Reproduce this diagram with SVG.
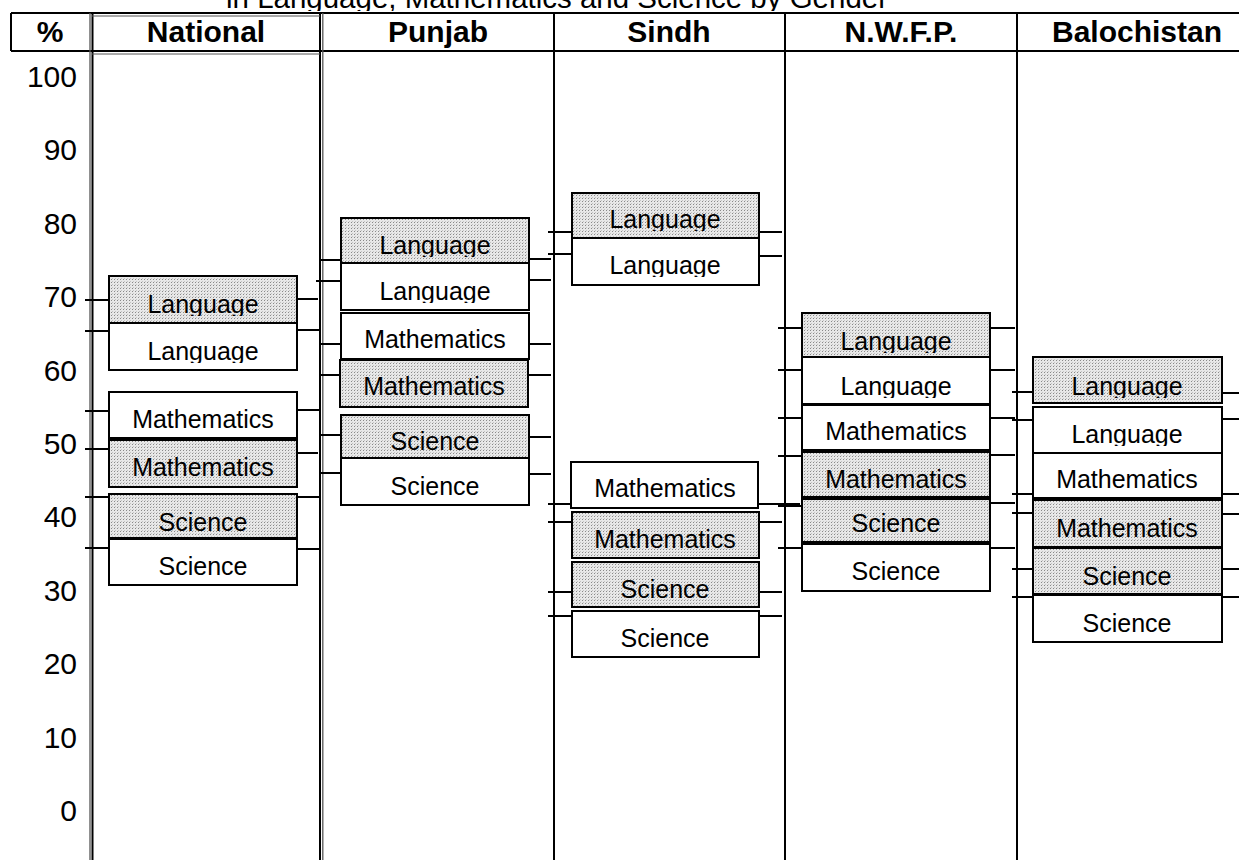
<svg xmlns="http://www.w3.org/2000/svg" width="1239" height="860" viewBox="0 0 1239 860">
<style>
.box{stroke:#000;stroke-width:2}
.w{fill:#fff}
.s{fill:url(#dots)}
.lbl{font-family:"Liberation Sans",Arial,sans-serif;font-size:25px;text-anchor:middle;fill:#000}
.hdr{font-family:"Liberation Sans",Arial,sans-serif;font-size:30px;font-weight:bold;text-anchor:middle;fill:#000}
.ax{font-family:"Liberation Sans",Arial,sans-serif;font-size:30px;text-anchor:end;fill:#000}
.ttl{font-family:"Liberation Sans",Arial,sans-serif;font-size:29px;fill:#000}
.grid{stroke:#000;stroke-width:2;fill:none}
.tick{stroke:#000;stroke-width:2}
</style>
<defs>
<pattern id="dots" width="3" height="3" patternUnits="userSpaceOnUse">
<rect width="3" height="3" fill="#e8e8e8"/>
<rect width="1" height="1" fill="#8a8a8a"/>
<rect x="1" y="2" width="1" height="1" fill="#c4c4c4"/>
</pattern>
<clipPath id="langclip">
<rect x="109" y="276" width="188" height="40"/>
<rect x="109" y="323" width="188" height="40"/>
<rect x="341" y="218" width="188" height="39"/>
<rect x="341" y="263" width="188" height="40"/>
<rect x="572" y="193" width="187" height="38"/>
<rect x="572" y="238" width="187" height="39"/>
<rect x="802" y="313" width="188" height="40"/>
<rect x="802" y="357" width="188" height="41"/>
<rect x="1033" y="357" width="189" height="41"/>
<rect x="1033" y="407" width="189" height="39"/>
</clipPath>
</defs>
<rect width="1239" height="860" fill="#fff"/>

<text class="ttl" x="226" y="8" textLength="662" lengthAdjust="spacingAndGlyphs">in Language, Mathematics and Science by Gender</text>

<g id="frame">
<rect x="0" y="11" width="1239" height="4" fill="#fff"/>
<line class="grid" x1="11" y1="13" x2="1239" y2="13"/>
<line class="grid" x1="11" y1="51" x2="1239" y2="51"/>
<line class="grid" x1="11" y1="13" x2="11" y2="51"/>
<line x1="90" y1="13" x2="90" y2="860" stroke="#555" stroke-width="1.3"/>
<line x1="92.5" y1="13" x2="92.5" y2="860" stroke="#000" stroke-width="2"/>
<line x1="320" y1="13" x2="320" y2="860" stroke="#000" stroke-width="2"/>
<line x1="322.8" y1="13" x2="322.8" y2="860" stroke="#555" stroke-width="1.3"/>
<line class="grid" x1="554" y1="13" x2="554" y2="860"/>
<line class="grid" x1="785" y1="13" x2="785" y2="860"/>
<line class="grid" x1="1017" y1="13" x2="1017" y2="860"/>
<line x1="92" y1="16" x2="320" y2="16" stroke="#555" stroke-width="1"/>
<line x1="92" y1="54" x2="320" y2="54" stroke="#555" stroke-width="1"/>
</g>

<g id="headers">
<text class="hdr" x="50" y="42">%</text>
<text class="hdr" x="206" y="42">National</text>
<text class="hdr" x="438" y="42">Punjab</text>
<text class="hdr" x="669" y="42">Sindh</text>
<text class="hdr" x="901" y="42">N.W.F.P.</text>
<text class="hdr" x="1137" y="42">Balochistan</text>
</g>

<g id="axis">
<text class="ax" x="77" y="87">100</text>
<text class="ax" x="77" y="160">90</text>
<text class="ax" x="77" y="234">80</text>
<text class="ax" x="77" y="307">70</text>
<text class="ax" x="77" y="381">60</text>
<text class="ax" x="77" y="454">50</text>
<text class="ax" x="77" y="527">40</text>
<text class="ax" x="77" y="601">30</text>
<text class="ax" x="77" y="674">20</text>
<text class="ax" x="77" y="748">10</text>
<text class="ax" x="77" y="821">0</text>
</g>

<g id="connectors">
<line class="tick" x1="85" y1="300" x2="109" y2="300"/>
<line class="tick" x1="85" y1="331" x2="109" y2="331"/>
<line class="tick" x1="85" y1="411" x2="109" y2="411"/>
<line class="tick" x1="85" y1="449" x2="109" y2="449"/>
<line class="tick" x1="85" y1="497" x2="109" y2="497"/>
<line class="tick" x1="85" y1="548" x2="109" y2="548"/>
<line class="tick" x1="297" y1="299" x2="318" y2="299"/>
<line class="tick" x1="297" y1="330" x2="320" y2="330"/>
<line class="tick" x1="297" y1="410" x2="320" y2="410"/>
<line class="tick" x1="297" y1="453" x2="318" y2="453"/>
<line class="tick" x1="297" y1="497" x2="320" y2="497"/>
<line class="tick" x1="297" y1="549" x2="320" y2="549"/>
<line class="tick" x1="319" y1="260" x2="341" y2="260"/>
<line class="tick" x1="316" y1="281" x2="341" y2="281"/>
<line class="tick" x1="319" y1="344" x2="341" y2="344"/>
<line class="tick" x1="319" y1="375" x2="341" y2="375"/>
<line class="tick" x1="319" y1="435" x2="341" y2="435"/>
<line class="tick" x1="319" y1="473" x2="341" y2="473"/>
<line class="tick" x1="529" y1="259" x2="551" y2="259"/>
<line class="tick" x1="529" y1="280" x2="551" y2="280"/>
<line class="tick" x1="529" y1="344" x2="551" y2="344"/>
<line class="tick" x1="529" y1="375" x2="551" y2="375"/>
<line class="tick" x1="529" y1="437" x2="551" y2="437"/>
<line class="tick" x1="529" y1="474" x2="551" y2="474"/>
<line class="tick" x1="548" y1="232" x2="572" y2="232"/>
<line class="tick" x1="548" y1="254" x2="572" y2="254"/>
<line class="tick" x1="548" y1="504" x2="572" y2="504"/>
<line class="tick" x1="548" y1="522" x2="572" y2="522"/>
<line class="tick" x1="548" y1="592" x2="572" y2="592"/>
<line class="tick" x1="548" y1="616" x2="572" y2="616"/>
<line class="tick" x1="759" y1="232" x2="782" y2="232"/>
<line class="tick" x1="759" y1="256" x2="782" y2="256"/>
<line class="tick" x1="759" y1="504" x2="800" y2="504"/>
<line class="tick" x1="759" y1="522" x2="782" y2="522"/>
<line class="tick" x1="759" y1="592" x2="782" y2="592"/>
<line class="tick" x1="759" y1="616" x2="782" y2="616"/>
<line class="tick" x1="778" y1="328" x2="802" y2="328"/>
<line class="tick" x1="778" y1="370" x2="802" y2="370"/>
<line class="tick" x1="778" y1="418" x2="802" y2="418"/>
<line class="tick" x1="778" y1="456" x2="802" y2="456"/>
<line class="tick" x1="778" y1="506" x2="802" y2="506"/>
<line class="tick" x1="778" y1="548" x2="802" y2="548"/>
<line class="tick" x1="990" y1="328" x2="1015" y2="328"/>
<line class="tick" x1="990" y1="370" x2="1015" y2="370"/>
<line class="tick" x1="990" y1="418" x2="1015" y2="418"/>
<line class="tick" x1="990" y1="455" x2="1015" y2="455"/>
<line class="tick" x1="990" y1="503" x2="1015" y2="503"/>
<line class="tick" x1="990" y1="548" x2="1015" y2="548"/>
<line class="tick" x1="1012" y1="392" x2="1033" y2="392"/>
<line class="tick" x1="1012" y1="420" x2="1033" y2="420"/>
<line class="tick" x1="1012" y1="494" x2="1033" y2="494"/>
<line class="tick" x1="1012" y1="513" x2="1033" y2="513"/>
<line class="tick" x1="1012" y1="569" x2="1033" y2="569"/>
<line class="tick" x1="1012" y1="597" x2="1033" y2="597"/>
<line class="tick" x1="1222" y1="393" x2="1239" y2="393"/>
<line class="tick" x1="1222" y1="419" x2="1239" y2="419"/>
<line class="tick" x1="1222" y1="494" x2="1239" y2="494"/>
<line class="tick" x1="1222" y1="514" x2="1239" y2="514"/>
<line class="tick" x1="1222" y1="569" x2="1239" y2="569"/>
<line class="tick" x1="1222" y1="597" x2="1239" y2="597"/>
</g>

<g id="nat-lang-s"><rect class="box s" x="109" y="276" width="188" height="47"/><text class="lbl" x="203" y="313" clip-path="url(#langclip)">Language</text></g>
<g id="nat-lang-w"><rect class="box w" x="109" y="323" width="188" height="47"/><text class="lbl" x="203" y="360" clip-path="url(#langclip)">Language</text></g>
<g id="nat-math-w"><rect class="box w" x="109" y="392" width="188" height="46"/><text class="lbl" x="203" y="428">Mathematics</text></g>
<g id="nat-math-s"><rect class="box s" x="109" y="440" width="188" height="47"/><text class="lbl" x="203" y="476">Mathematics</text></g>
<g id="nat-sci-s"><rect class="box s" x="109" y="494" width="188" height="44"/><text class="lbl" x="203" y="531">Science</text></g>
<g id="nat-sci-w"><rect class="box w" x="109" y="539" width="188" height="46"/><text class="lbl" x="203" y="575">Science</text></g>

<g id="pun-lang-s"><rect class="box s" x="341" y="218" width="188" height="45"/><text class="lbl" x="435" y="254" clip-path="url(#langclip)">Language</text></g>
<g id="pun-lang-w"><rect class="box w" x="341" y="263" width="188" height="47"/><text class="lbl" x="435" y="300" clip-path="url(#langclip)">Language</text></g>
<g id="pun-math-w"><rect class="box w" x="341" y="313" width="188" height="46"/><text class="lbl" x="435" y="348">Mathematics</text></g>
<g id="pun-math-s"><rect class="box s" x="340" y="360" width="188" height="47"/><text class="lbl" x="434" y="395">Mathematics</text></g>
<g id="pun-sci-s"><rect class="box s" x="341" y="415" width="188" height="43"/><text class="lbl" x="435" y="450">Science</text></g>
<g id="pun-sci-w"><rect class="box w" x="341" y="458" width="188" height="47"/><text class="lbl" x="435" y="495">Science</text></g>

<g id="sin-lang-s"><rect class="box s" x="572" y="193" width="187" height="45"/><text class="lbl" x="665" y="228" clip-path="url(#langclip)">Language</text></g>
<g id="sin-lang-w"><rect class="box w" x="572" y="238" width="187" height="47"/><text class="lbl" x="665" y="274" clip-path="url(#langclip)">Language</text></g>
<g id="sin-math-w"><rect class="box w" x="571" y="462" width="187" height="46"/><text class="lbl" x="665" y="497">Mathematics</text></g>
<g id="sin-math-s"><rect class="box s" x="572" y="512" width="187" height="46"/><text class="lbl" x="665" y="548">Mathematics</text></g>
<g id="sin-sci-s"><rect class="box s" x="572" y="562" width="187" height="45"/><text class="lbl" x="665" y="598">Science</text></g>
<g id="sin-sci-w"><rect class="box w" x="572" y="611" width="187" height="46"/><text class="lbl" x="665" y="647">Science</text></g>

<g id="nwfp-lang-s"><rect class="box s" x="802" y="313" width="188" height="44"/><text class="lbl" x="896" y="350" clip-path="url(#langclip)">Language</text></g>
<g id="nwfp-lang-w"><rect class="box w" x="802" y="357" width="188" height="47"/><text class="lbl" x="896" y="395" clip-path="url(#langclip)">Language</text></g>
<g id="nwfp-math-w"><rect class="box w" x="802" y="405" width="188" height="45"/><text class="lbl" x="896" y="440">Mathematics</text></g>
<g id="nwfp-math-s"><rect class="box s" x="802" y="452" width="188" height="45"/><text class="lbl" x="896" y="488">Mathematics</text></g>
<g id="nwfp-sci-s"><rect class="box s" x="802" y="499" width="188" height="43"/><text class="lbl" x="896" y="532">Science</text></g>
<g id="nwfp-sci-w"><rect class="box w" x="802" y="544" width="188" height="47"/><text class="lbl" x="896" y="580">Science</text></g>

<g id="bal-lang-s"><rect class="box s" x="1033" y="357" width="189" height="46"/><text class="lbl" x="1127" y="395" clip-path="url(#langclip)">Language</text></g>
<g id="bal-lang-w"><rect class="box w" x="1033" y="407" width="189" height="46"/><text class="lbl" x="1127" y="443" clip-path="url(#langclip)">Language</text></g>
<g id="bal-math-w"><rect class="box w" x="1033" y="453" width="189" height="45"/><text class="lbl" x="1127" y="488">Mathematics</text></g>
<g id="bal-math-s"><rect class="box s" x="1033" y="500" width="189" height="47"/><text class="lbl" x="1127" y="537">Mathematics</text></g>
<g id="bal-sci-s"><rect class="box s" x="1033" y="548" width="189" height="46"/><text class="lbl" x="1127" y="585">Science</text></g>
<g id="bal-sci-w"><rect class="box w" x="1033" y="595" width="189" height="47"/><text class="lbl" x="1127" y="632">Science</text></g>
</svg>
